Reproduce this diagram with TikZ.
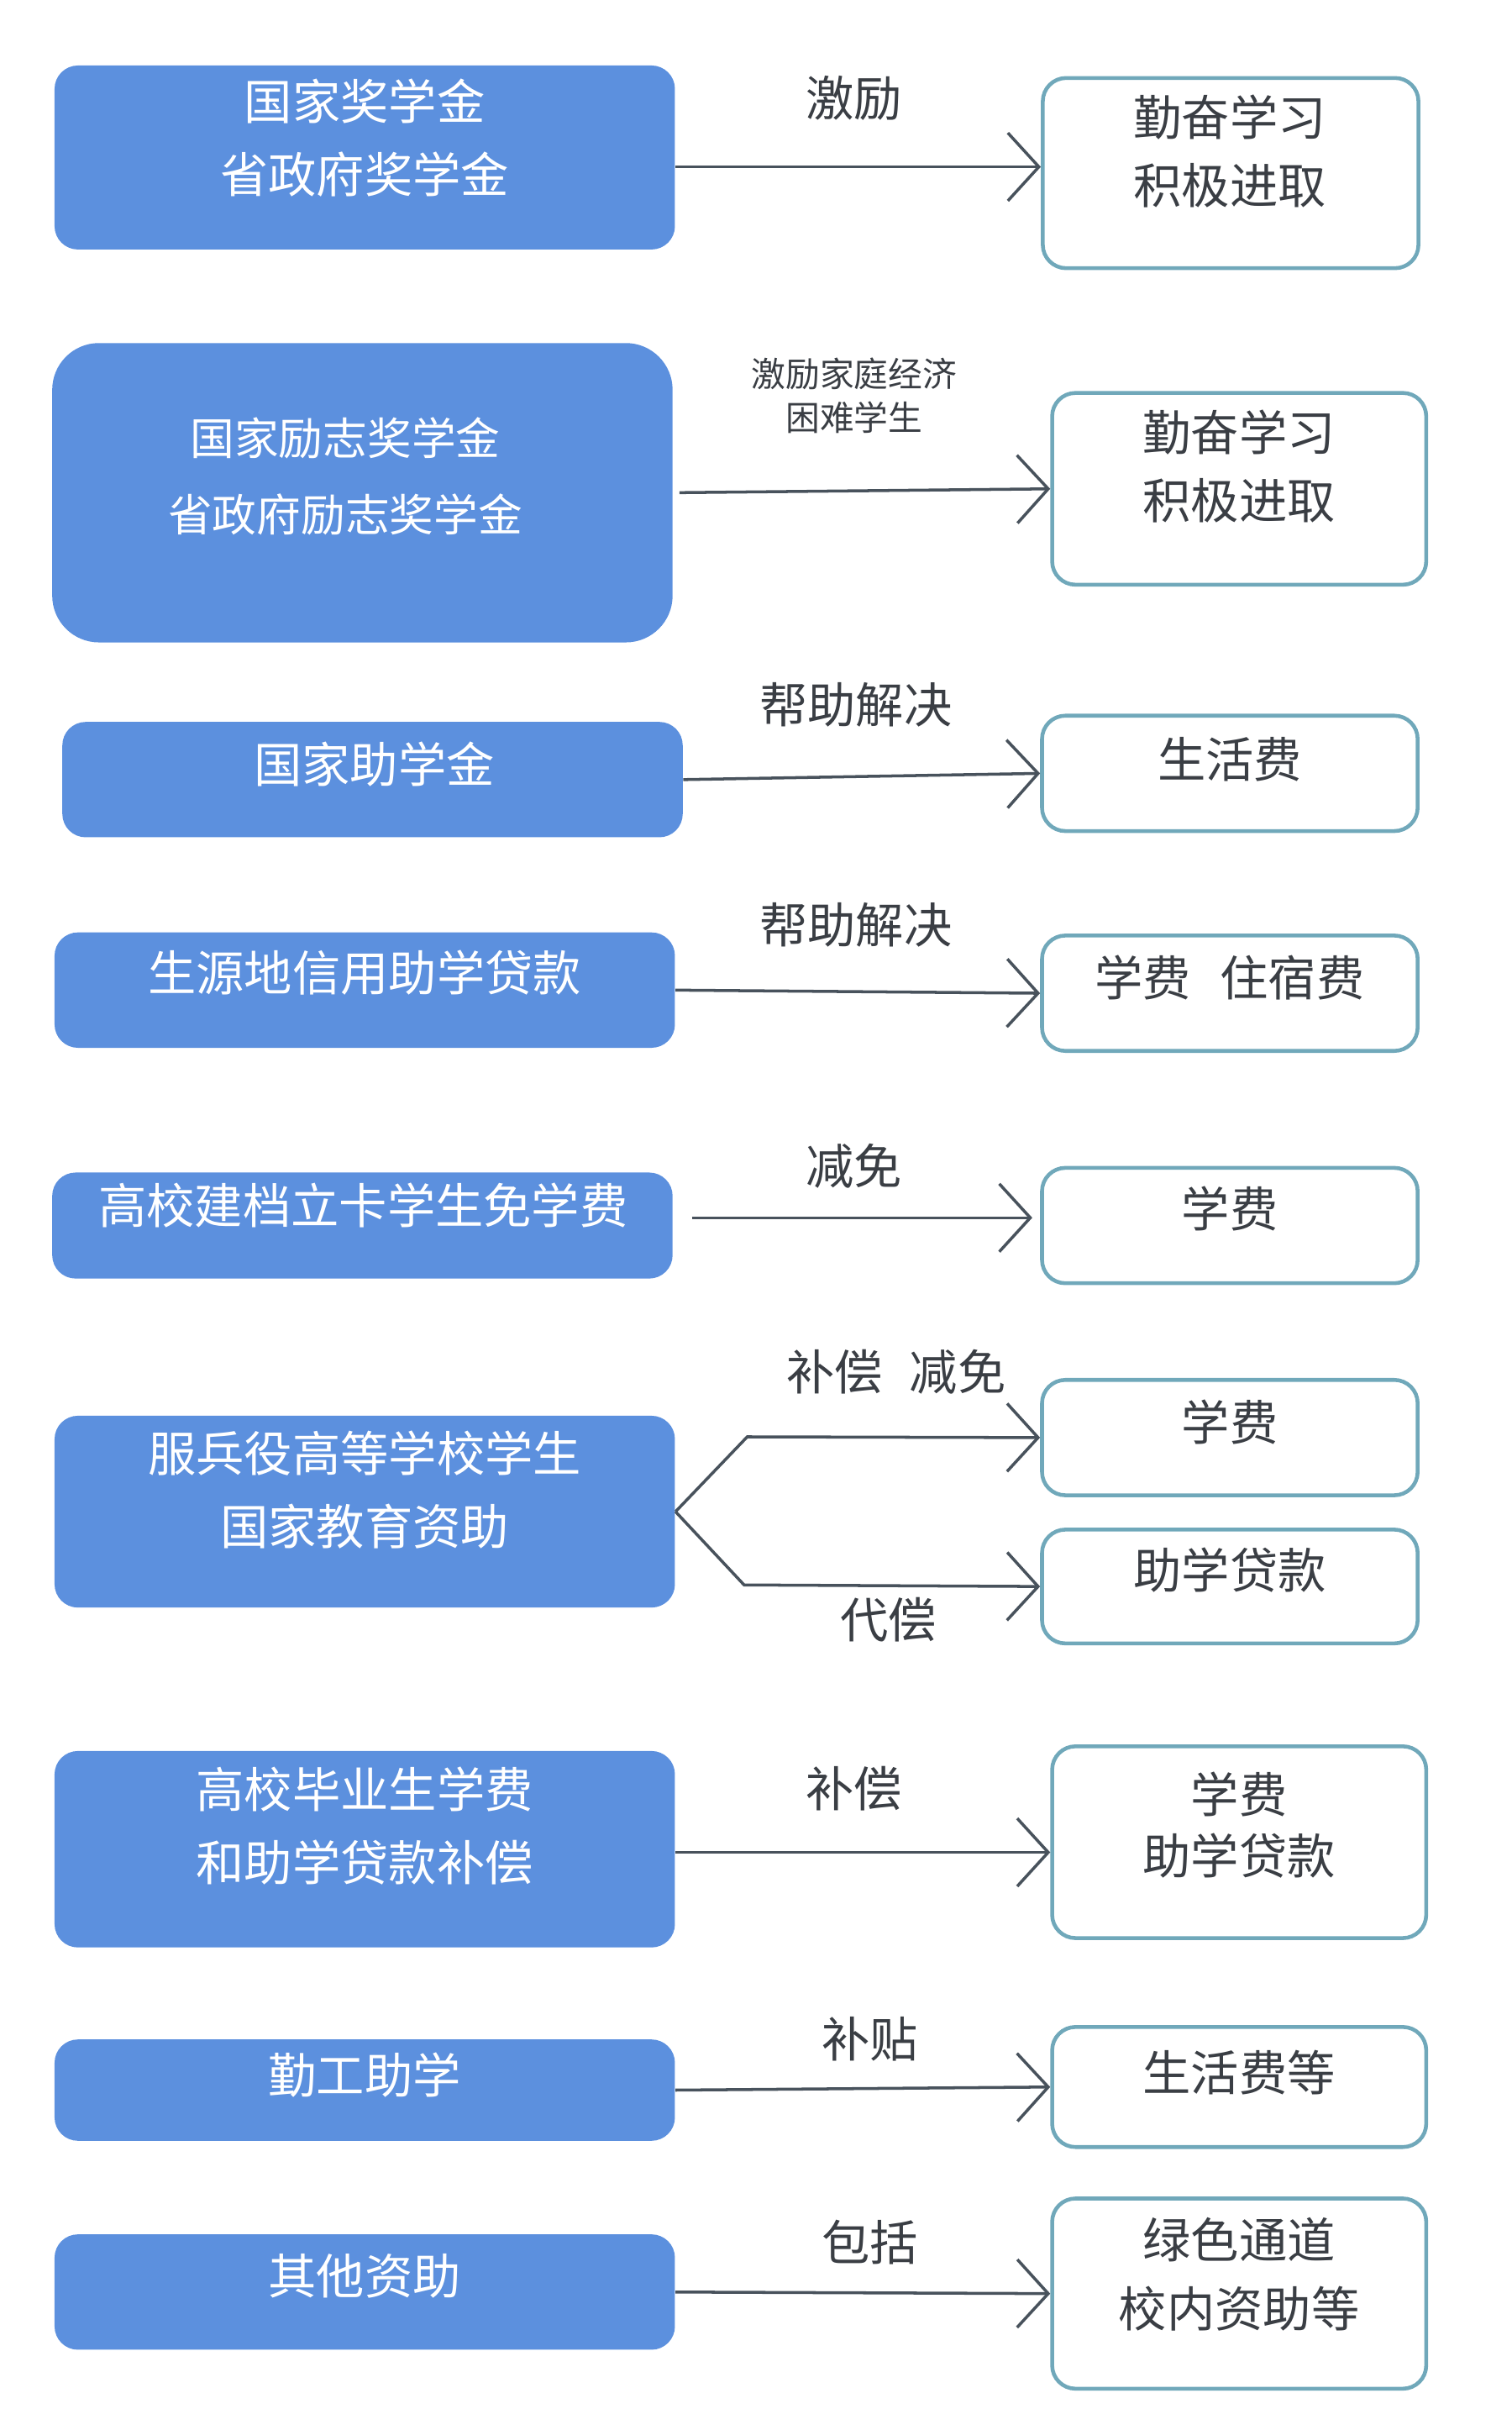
\documentclass[tikz,border=0pt]{standalone}
\usepackage{fontspec}
\newfontfamily\cjk{Noto Sans CJK SC}
\usetikzlibrary{arrows.meta}
\newlength\pxu
\setlength\pxu{0.01855cm}
\definecolor{fundblue}{RGB}{92,144,222}
\definecolor{goalrim}{RGB}{112,168,186}
\definecolor{linegray}{RGB}{72,82,92}
\definecolor{inkgray}{RGB}{58,62,68}

\tikzset{
    fund/.style = {rectangle, rounded corners = 15\pxu, fill = fundblue, minimum width = 398\pxu},
    fundtext/.style = {text = white, align = center, inner sep = 0pt, font = \cjk\fontsize{16.3}{24.8}\selectfont},
    goal/.style = {rectangle, rounded corners = 15\pxu, draw = goalrim, line width = 1.3pt, fill = white, minimum width = 241\pxu},
    goaltext/.style = {text = inkgray, align = center, inner sep = 0pt, font = \cjk\fontsize{16.3}{23.2}\selectfont},
    tag/.style = {text = inkgray, align = center, inner sep = 0pt, font = \cjk\fontsize{16.3}{20}\selectfont},
    flow/.style = {draw = linegray, line width = 1pt, -{Straight Barb[length = 10.5pt, width = 23pt]}}
}

\begin{document}
\begin{tikzpicture}[x = 0.01855cm, y = -0.01855cm]
    \useasboundingbox (0,0) rectangle (970,1558.5);

    % funding boxes
    \node[fund, minimum height = 118\pxu] (f1) at (234,101) {};
    \node[fund, minimum height = 192\pxu, rounded corners = 30\pxu] (f2) at (232.5,316) {};
    \node[fund, minimum height = 74\pxu] (f3) at (239,500) {};
    \node[fund, minimum height = 74\pxu] (f4) at (234,635) {};
    \node[fund, minimum height = 68\pxu] (f5) at (232.5,786) {};
    \node[fund, minimum height = 123\pxu] (f6) at (234,969.5) {};
    \node[fund, minimum height = 126\pxu] (f7) at (234,1186) {};
    \node[fund, minimum height = 65\pxu] (f8) at (234,1340.5) {};
    \node[fund, minimum height = 74\pxu] (f9) at (234,1470) {};

    \node[fundtext] (f1t) at (234,88.5) {国家奖学金\\省政府奖学金};
    \node[fundtext, font = \cjk\fontsize{15}{25.8}\selectfont] (f2t) at (221.5,305.5) {国家励志奖学金\\省政府励志奖学金};
    \node[fundtext] (f3t) at (240,490) {国家助学金};
    \node[fundtext] (f4t) at (234,624) {生源地信用助学贷款};
    \node[fundtext] (f5t) at (233,773) {高校建档立卡学生免学费};
    \node[fundtext] (f6t) at (234,955.5) {服兵役高等学校学生\\国家教育资助};
    \node[fundtext] (f7t) at (234,1171) {高校毕业生学费\\和助学贷款补偿};
    \node[fundtext] (f8t) at (234,1331) {勤工助学};
    \node[fundtext] (f9t) at (234,1460) {其他资助};

    % goal boxes
    \node[goal, minimum height = 122\pxu] (g1) at (789.5,111) {};
    \node[goal, minimum height = 123\pxu, minimum width = 240\pxu] (g2) at (795,313.5) {};
    \node[goal, minimum height = 74\pxu] (g3) at (789,496) {};
    \node[goal, minimum height = 74\pxu] (g4) at (789,637) {};
    \node[goal, minimum height = 74\pxu] (g5) at (789,786) {};
    \node[goal, minimum height = 74\pxu] (g6a) at (789,922) {};
    \node[goal, minimum height = 73\pxu] (g6b) at (789,1017.5) {};
    \node[goal, minimum height = 123\pxu, minimum width = 240\pxu] (g7) at (795,1181.5) {};
    \node[goal, minimum height = 77\pxu, minimum width = 240\pxu] (g8) at (795,1338.5) {};
    \node[goal, minimum height = 122\pxu, minimum width = 240\pxu] (g9) at (795,1471) {};

    \node[goaltext] (g1t) at (789,97) {勤奋学习\\积极进取};
    \node[goaltext] (g2t) at (795,299) {勤奋学习\\积极进取};
    \node[goaltext] (g3t) at (789,487) {生活费};
    \node[goaltext] (g4t) at (789,627) {学费\hspace{0.6em}住宿费};
    \node[goaltext] (g5t) at (789,775) {学费};
    \node[goaltext] (g6at) at (789,912) {学费};
    \node[goaltext] (g6bt) at (789,1007) {助学贷款};
    \node[goaltext, font = \cjk\fontsize{16.3}{20.6}\selectfont] (g7t) at (795,1170.5) {学费\\助学贷款};
    \node[goaltext] (g8t) at (795,1329) {生活费等};
    \node[goaltext] (g9t) at (795,1458.5) {绿色通道\\校内资助等};

    % labels over the arrows
    \node[tag] (l1) at (548,63) {激励};
    \node[tag, font = \cjk\fontsize{11.6}{14.8}\selectfont] (l2) at (548,254) {激励家庭经济\\困难学生};
    \node[tag] (l3) at (549,452) {帮助解决};
    \node[tag] (l4) at (549,593) {帮助解决};
    \node[tag] (l5) at (548,748) {减免};
    \node[tag] (l6a) at (575,880) {补偿\hspace{0.55em}减免};
    \node[tag] (l6b) at (570,1039) {代偿};
    \node[tag] (l7) at (548,1147) {补偿};
    \node[tag] (l8) at (558,1308) {补贴};
    \node[tag] (l9) at (558,1438) {包括};

    % arrows
    \draw[flow] ([yshift = -6\pxu]f1.east) -- ([yshift = 4\pxu]g1.west);
    \draw[flow, shorten < = 4\pxu] (f2.east) -- (g2.west);
    \draw[flow] (f3.east) -- (g3.west);
    \draw[flow] (f4.east) -- (g4.west);
    \draw[flow, shorten < = 12\pxu, shorten > = 5\pxu] ([yshift = 5\pxu]f5.east) -- ([yshift = 5\pxu]g5.west);
    \draw[flow] (f6.east) -- ++(46,-48) -- (g6a.west);
    \draw[flow] (f6.east) -- ++(44,47) -- (g6b.west);
    \draw[flow] ([yshift = -2\pxu]f7.east) -- ([yshift = -6.5\pxu]g7.west);
    \draw[flow] (f8.east) -- (g8.west);
    \draw[flow] (f9.east) -- (g9.west);
\end{tikzpicture}
\end{document}
